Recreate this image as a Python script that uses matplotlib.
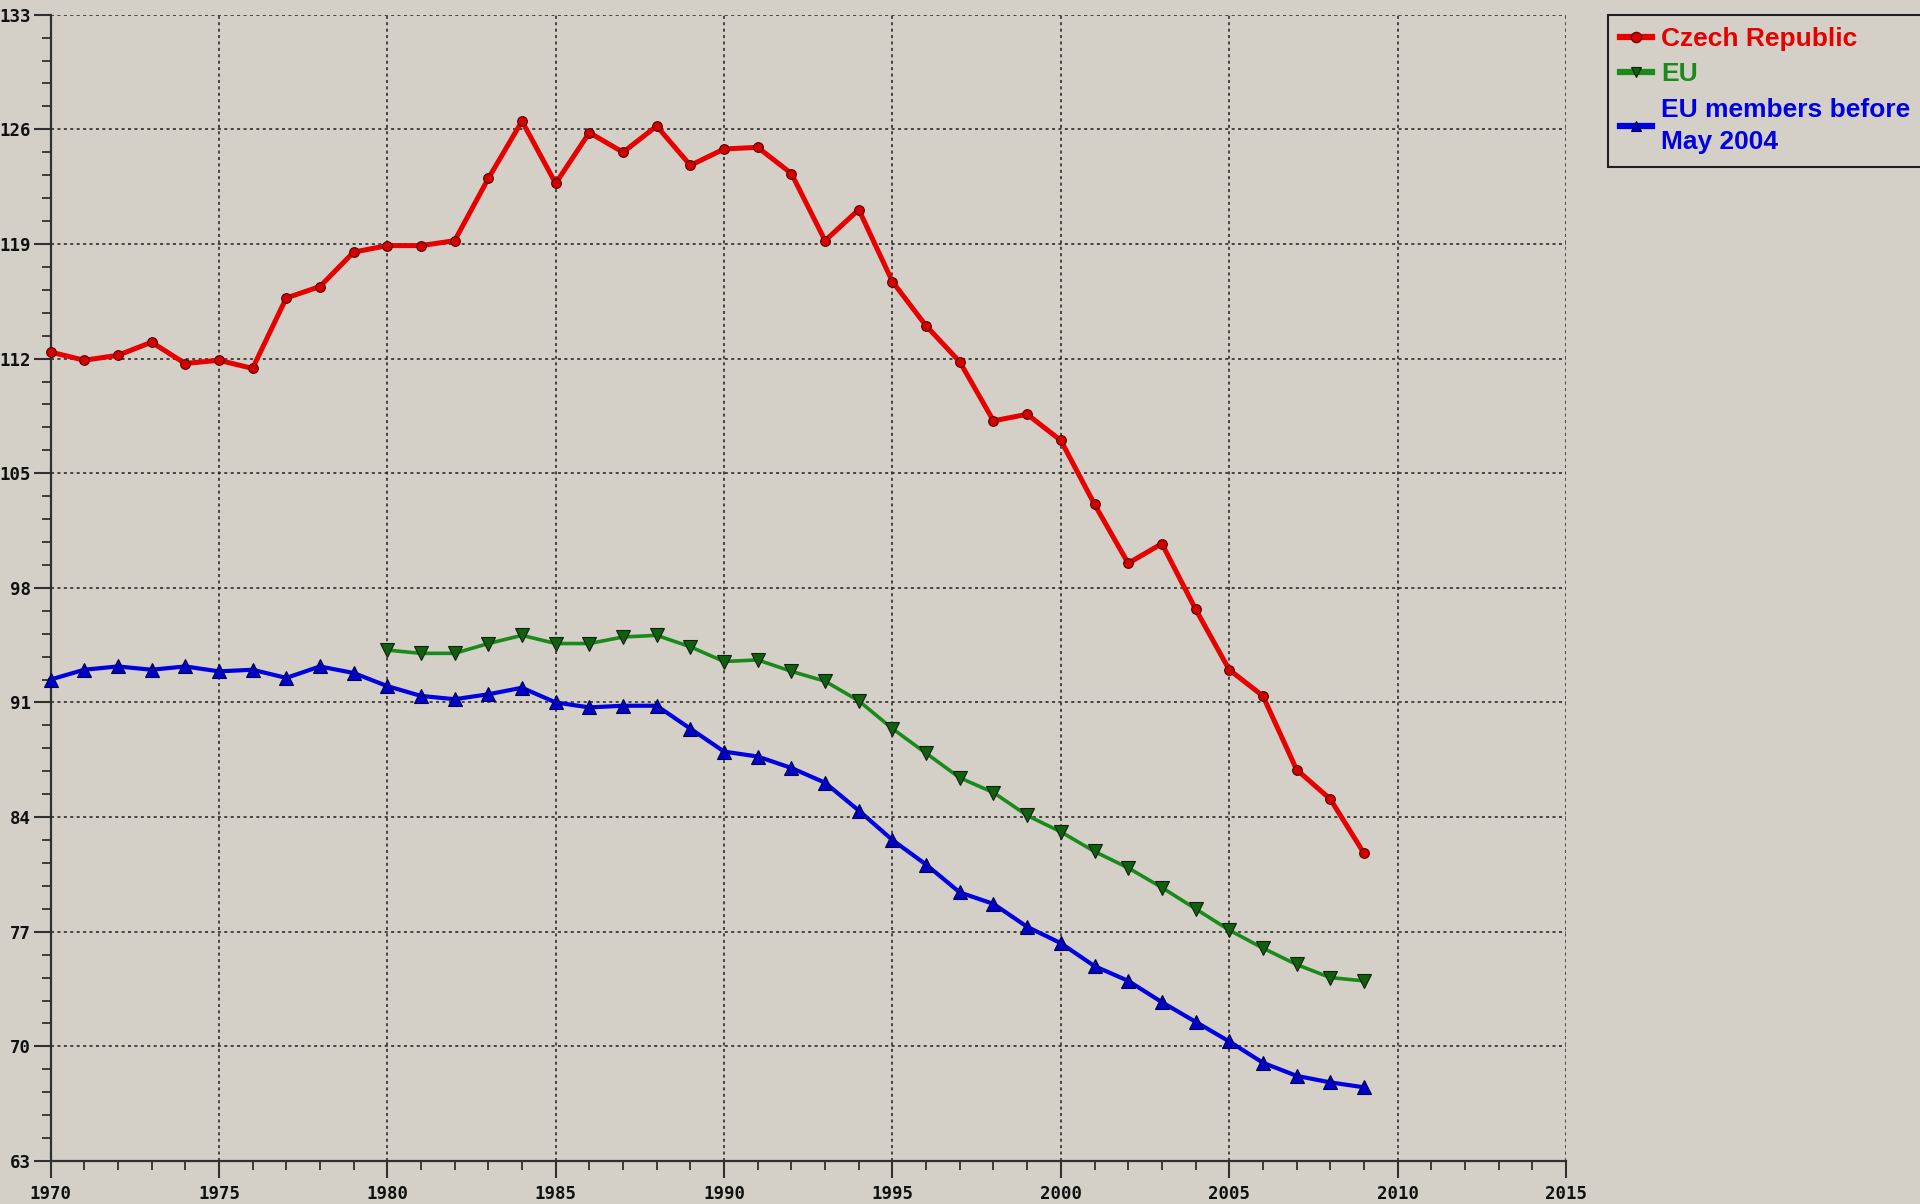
import numpy as np
import matplotlib
matplotlib.use("Agg")
import matplotlib.pyplot as plt
from matplotlib.ticker import MultipleLocator

# data
years_cz = list(range(1970, 2010))
czech = [112.4, 111.9, 112.2, 113.0, 111.7, 111.9, 111.4, 115.7, 116.4, 118.5,
         118.9, 118.9, 119.2, 123.0, 126.5, 122.7, 125.8, 124.6, 126.2, 123.8,
         124.8, 124.9, 123.3, 119.2, 121.1, 116.7, 114.0, 111.8, 108.2, 108.6,
         107.0, 103.1, 99.5, 100.7, 96.7, 93.0, 91.4, 86.9, 85.1, 81.8]

years_eu = list(range(1980, 2010))
eu = [94.2, 94.0, 94.0, 94.6, 95.1, 94.6, 94.6, 95.0, 95.1, 94.4,
      93.5, 93.6, 92.9, 92.3, 91.1, 89.4, 87.9, 86.4, 85.5, 84.1,
      83.1, 81.9, 80.9, 79.7, 78.4, 77.1, 76.0, 75.0, 74.2, 74.0]

years_old = list(range(1970, 2010))
eu_old = [92.4, 93.0, 93.2, 93.0, 93.2, 92.9, 93.0, 92.5, 93.2, 92.8,
          92.0, 91.4, 91.2, 91.5, 91.9, 91.0, 90.7, 90.8, 90.8, 89.4,
          88.0, 87.7, 87.0, 86.1, 84.4, 82.6, 81.1, 79.4, 78.7, 77.3,
          76.3, 74.9, 74.0, 72.7, 71.5, 70.3, 69.0, 68.2, 67.8, 67.5]

labels = ["Czech Republic", "EU", "EU members before\nMay 2004"]

BG = "#d4d0c8"

fig = plt.figure(figsize=(19.2, 12.04), dpi=100, facecolor=BG)
ax = fig.add_axes([50.5 / 1920, 1 - 1161 / 1204, (1566 - 50.5) / 1920, (1161 - 14.7) / 1204])
ax.set_facecolor(BG)

# lines
l1, = ax.plot(years_cz, czech, color="#e60000", lw=3.6, marker="o", ms=7,
              mfc="#d40000", mec="#5a0000", mew=0.8, clip_on=False, zorder=5)
l2, = ax.plot(years_eu, eu, color="#1a8a1a", lw=2.6, marker="v", ms=10.5,
              mfc="#106010", mec="#102010", mew=0.8, clip_on=False, zorder=4)
l3, = ax.plot(years_old, eu_old, color="#0000e0", lw=3.0, marker="^", ms=10.5,
              mfc="#0000c8", mec="#000050", mew=0.8, clip_on=False, zorder=4)

ax.set_xlim(1970, 2015)
ax.set_ylim(63, 133)
ax.xaxis.set_major_locator(MultipleLocator(5))
ax.xaxis.set_minor_locator(MultipleLocator(1))
ax.yaxis.set_major_locator(MultipleLocator(7))
ax.yaxis.set_minor_locator(MultipleLocator(1.4))

ax.grid(True, which="major", color="#202020", linestyle=(0, (2, 2.2)), linewidth=1.1)
ax.set_axisbelow(True)

for s in ["top", "right"]:
    ax.spines[s].set_visible(False)
for s in ["left", "bottom"]:
    ax.spines[s].set_color("#303030")
    ax.spines[s].set_linewidth(1.6)

ax.tick_params(axis="both", which="major", direction="out", length=12.5, width=1.5,
               color="#303030")
ax.tick_params(axis="both", which="minor", direction="out", length=6.5, width=1.3,
               color="#303030")
ax.tick_params(axis="y", which="major", pad=1.5)
ax.tick_params(axis="x", which="major", pad=5)

for t in ax.get_xticklabels() + ax.get_yticklabels():
    t.set_fontfamily("DejaVu Sans Mono")
    t.set_fontweight("bold")
    t.set_fontsize(12.5)
    t.set_color("#101010")

leg = fig.legend([l1, l2, l3], labels, loc="upper left",
                 bbox_to_anchor=(1608 / 1920, 1 - 15 / 1204), borderaxespad=0,
                 frameon=True, fancybox=False, facecolor=BG, edgecolor="#202020",
                 framealpha=1, handlelength=1.2, handletextpad=0.35,
                 borderpad=0.47, labelspacing=0.42,
                 prop={"family": "Liberation Sans", "weight": "bold", "size": 19})
leg.get_frame().set_linewidth(1.5)
for txt, c in zip(leg.get_texts(), ["#e60000", "#1a8a1a", "#0000e0"]):
    txt.set_color(c)
leg.get_texts()[2].set_linespacing(1.45)
for h in leg.legend_handles:
    h.set_markersize(7.5)
    h.set_linewidth(4.5)

fig.savefig("out.png", dpi=100, facecolor=BG)
